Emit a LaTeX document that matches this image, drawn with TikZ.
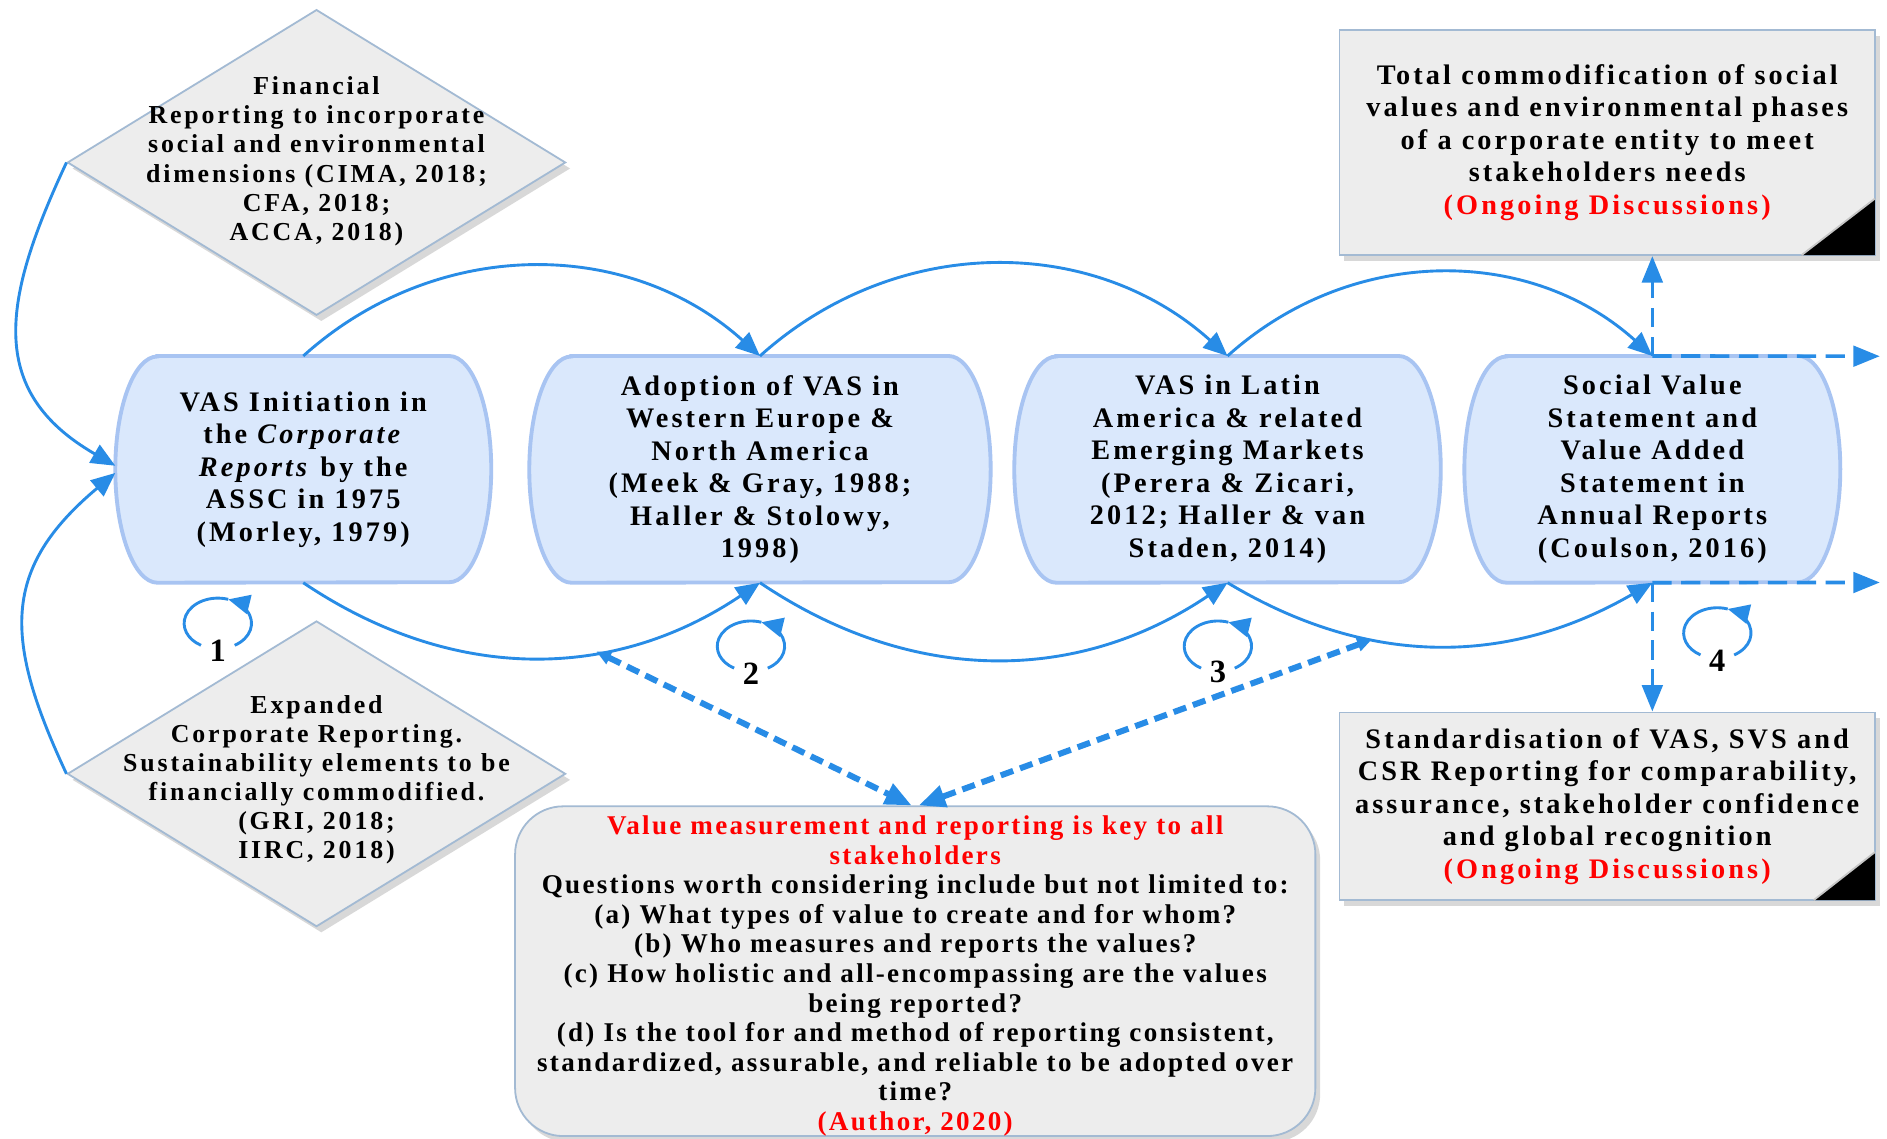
\documentclass[tikz,border=0pt]{standalone}
\usepackage{fontspec}
\setmainfont{Liberation Serif}[LetterSpace=11]
\usetikzlibrary{shapes.geometric, arrows.meta, shadows, calc, backgrounds}
\definecolor{conblue}{HTML}{288CE6}
\definecolor{vasfill}{HTML}{DAE8FC}
\definecolor{vasline}{HTML}{A8C4F2}
\definecolor{grayfill}{HTML}{EDEDED}
\definecolor{grayline}{HTML}{A3BAD3}
\definecolor{redtxt}{HTML}{FF0000}
\begin{document}
\begin{tikzpicture}[x=1pt,y=1pt,
  vasnode/.style={rectangle, inner sep=0pt, minimum width=#1, minimum height=188pt, align=center,
    font=\fontsize{23.5}{27}\selectfont\bfseries},
  vasshape/.style={fill=vasfill, draw=vasline, line width=3.2pt},
  diam/.style={diamond, draw=grayline, fill=grayfill, line width=1.5pt, inner sep=0pt,
    minimum width=414pt, minimum height=254pt,
    drop shadow={shadow xshift=4pt, shadow yshift=-5pt, opacity=.3, fill=gray}},
  dtext/.style={align=center, inner sep=0pt, font=\fontsize{21.5}{24.2}\selectfont\bfseries},
  graybox/.style={rectangle, draw=grayline, fill=grayfill, line width=1.5pt, inner sep=0pt, align=center,
    drop shadow={shadow xshift=4pt, shadow yshift=-5pt, opacity=.3, fill=gray}},
  con/.style={draw=conblue, line width=2.4pt, -{Triangle[length=20pt,width=17pt]}, conblue},
  thickdash/.style={draw=conblue, line width=5pt, dash pattern=on 11pt off 6pt,
    {Triangle[length=12pt,width=11pt]}-{Triangle[length=22pt,width=18pt]}, conblue},
  thindash/.style={draw=conblue, line width=3pt, dash pattern=on 16pt off 8pt,
    -{Triangle[length=22pt,width=17pt]}, conblue},
  loopc/.style={draw=conblue, line width=2.4pt},
  num/.style={font=\fontsize{27}{27}\selectfont\bfseries, inner sep=0pt}
]
\useasboundingbox (0,0) rectangle (1568,-946);

% diamonds
\node[diam] (d1) at (263,-135) {};
\node[dtext] (d1t) at (263,-134) {Financial\\Reporting to incorporate\\social and environmental\\dimensions (CIMA, 2018;\\CFA, 2018;\\ACCA, 2018)};
\node[diam] (d2) at (263,-643) {};
\node[dtext] (d2t) at (263,-648) {Expanded\\Corporate Reporting.\\Sustainability elements to be\\financially commodified.\\(GRI, 2018;\\IIRC, 2018)};

% VAS boxes (shapes drawn on background)
\node[vasnode=312pt] (b1) at (252,-390) {VAS Initiation in\\the \textit{Corporate}\\\textit{Reports} by the\\ASSC in 1975\\(Morley, 1979)};
\node[vasnode=383pt] (b2) at (631.5,-390) {Adoption of VAS in\\Western Europe \&\\North America\\(Meek \& Gray, 1988;\\Haller \& Stolowy,\\1998)};
\node[vasnode=354pt] (b3) at (1020,-390) {VAS in Latin\\America \& related\\Emerging Markets\\(Perera \& Zicari,\\2012; Haller \& van\\Staden, 2014)};
\node[vasnode=312pt] (b4) at (1373,-390) {Social Value\\Statement and\\Value Added\\Statement in\\Annual Reports\\(Coulson, 2016)};
\begin{scope}[on background layer]
\fill[white] (0,0) rectangle (1568,-946);
\foreach \n in {b1,b2,b3,b4}{
  \draw[vasshape] ($(\n.north west)+(35,0)$) -- ($(\n.north east)+(-35,0)$)
    arc[start angle=90, end angle=-90, x radius=35, y radius=94]
    -- ($(\n.south west)+(35,0)$)
    arc[start angle=270, end angle=90, x radius=35, y radius=94] -- cycle;
}
\end{scope}

% gray boxes
\node[graybox, minimum width=445pt, minimum height=187pt, font=\fontsize{23.5}{27}\selectfont\bfseries] (tr) at (1335.5,-118.5)
  {Total commodification of social\\values and environmental phases\\of a corporate entity to meet\\stakeholders needs\\\textcolor{redtxt}{(Ongoing Discussions)}};
\node[graybox, minimum width=445pt, minimum height=156pt, font=\fontsize{23.5}{27}\selectfont\bfseries] (br) at (1335.5,-670)
  {Standardisation of VAS, SVS and\\CSR Reporting for comparability,\\assurance, stakeholder confidence\\and global recognition\\\textcolor{redtxt}{(Ongoing Discussions)}};
\fill[black] (1497,-212) -- (1558,-212) -- (1558,-165) -- cycle;
\draw[gray!45, line width=1.5pt] (1497,-212) -- (1558,-165);
\fill[black] (1507,-748) -- (1558,-748) -- (1558,-708) -- cycle;
\draw[gray!45, line width=1.5pt] (1507,-748) -- (1558,-708);

\node[graybox, rounded corners=40pt, minimum width=665pt, minimum height=274pt] (mid) at (760.5,-807) {};
\node[align=center, inner sep=0pt, font=\fontsize{22.5}{24.6}\selectfont\bfseries\addfontfeature{LetterSpace=8.5}] (midt) at (760.5,-811)
  {\textcolor{redtxt}{Value measurement and reporting is key to all}\\
   \textcolor{redtxt}{stakeholders}\\
   Questions worth considering include but not limited to:\\
   (a) What types of value to create and for whom?\\
   (b) Who measures and reports the values?\\
   (c) How holistic and all-encompassing are the values\\
   being reported?\\
   (d) Is the tool for and method of reporting consistent,\\
   standardized, assurable, and reliable to be adopted over\\
   time?\\
   \textcolor{redtxt}{(Author, 2020)}};

% top arcs
\draw[con] (b1.north) to[out=42, in=138] (b2.north);
\draw[con] (b2.north) to[out=42, in=138] (b3.north);
\draw[con] (b3.north) to[out=42, in=138] (b4.north);
% bottom arcs
\draw[con] (b1.south) to[out=-34, in=-146] coordinate[pos=0.64] (p1) (b2.south);
\draw[con] (b2.south) to[out=-34, in=-146] (b3.south);
\draw[con] (b3.south) to[out=-31, in=-150] coordinate[pos=0.34] (p3) (b4.south);
% left arcs
\draw[con] (d1.west) to[out=-115, in=150, looseness=1.25] ([yshift=3pt]b1.west);
\draw[con] (d2.west) to[out=115, in=-140, looseness=1.25] ([yshift=-3pt]b1.west);

% thick dashed arrows to middle box
\draw[thickdash] (p1) -- ([xshift=-3pt]mid.north);
\draw[thickdash] (p3) -- ([xshift=3pt]mid.north);

% dashed arrows from box 4
\coordinate (e1) at (1562,-296);
\coordinate (e2) at (1562,-484);
\draw[thindash] (b4.north) -- (b4.north |- tr.south);
\draw[thindash] (b4.north) -- (e1);
\draw[thindash] (b4.south) -- (b4.south |- br.north);
\draw[thindash] (b4.south) -- (e2);

% self loops
\foreach \cx/\cy/\lab/\ny [count=\i] in {181/-518/1/-541, 624/-537/2/-560, 1012/-537/3/-558, 1427/-526/4/-549}{
  \coordinate (l\i) at (\cx,\cy);
  \draw[loopc, -{Triangle[length=18pt,width=16pt]}] (l\i) ++(-60:28 and 21) arc[start angle=-60, end angle=72, x radius=28, y radius=21];
  \draw[loopc] (l\i) ++(72:28 and 21) arc[start angle=72, end angle=240, x radius=28, y radius=21];
  \node[num] (n\i) at (\cx,\ny) {\lab};
}
\end{tikzpicture}
\end{document}
